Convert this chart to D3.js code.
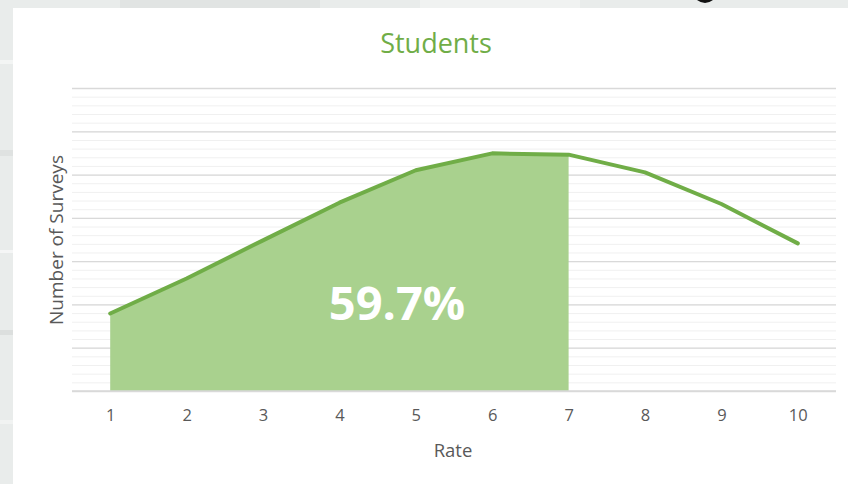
<!DOCTYPE html>
<html>
<head>
<meta charset="utf-8">
<script src="https://cdn.jsdelivr.net/npm/d3@7"></script>
<style>
  html, body { margin: 0; padding: 0; background: #e7eae9; }
  svg { display: block; }
  text { font-family: "Open Sans", "Noto Sans", sans-serif; }
</style>
</head>
<body>
<svg id="chart" width="848" height="484"></svg>
<script>
// Survey responses per rating (1–10)
const rates = [1, 2, 3, 4, 5, 6, 7, 8, 9, 10];
const surveys = [17.9, 26.0, 34.8, 43.5, 51.0, 54.9, 54.6, 50.5, 43.2, 34.1];
// Ratings covered by the shaded share
const shadedUpTo = 7;
const shareLabel = "59.7%";

const chartTitle = "Students";
const xTitle = "Rate";
const yTitle = "Number of Surveys";

const svg = d3.select("#chart");
const W = 848, H = 484;

// backdrop texture strip and white card
const bg = svg.append("g");
bg.append("rect").attr("width", W).attr("height", H).attr("fill", "#e9eceb");
const streaks = [[0, 60, 13, 4, "#f3f5f4"], [0, 150, 13, 6, "#dfe2e1"], [0, 250, 13, 3, "#f5f6f6"],
                 [0, 330, 13, 5, "#dcdfde"], [0, 420, 13, 4, "#f1f3f2"], [120, 0, 200, 8, "#e1e4e3"],
                 [420, 0, 160, 8, "#f0f2f1"]];
bg.selectAll("rect.s").data(streaks).join("rect").attr("class", "s")
  .attr("x", d => d[0]).attr("y", d => d[1]).attr("width", d => d[2]).attr("height", d => d[3])
  .attr("fill", d => d[4]);
// tail of a dark glyph peeking above the card
bg.append("path").attr("d", "M697,0 Q705,6 713,0 Z").attr("fill", "#111");
svg.append("rect").attr("x", 13).attr("y", 8).attr("width", W - 13).attr("height", H - 8).attr("fill", "#ffffff");

const m = { left: 72, right: 836, top: 88, bottom: 391 };

const x = d3.scalePoint().domain(rates).range([m.left, m.right]).padding(0.5);
const y = d3.scaleLinear().domain([0, 70]).range([m.bottom, m.top]);

// minor gridlines
svg.append("g")
  .attr("transform", `translate(${m.left},0)`)
  .call(d3.axisLeft(y).ticks(35).tickSize(-(m.right - m.left)).tickFormat(""))
  .call(g => g.select(".domain").remove())
  .call(g => g.selectAll("line").attr("stroke", "#f0f0f0").attr("stroke-width", 1));

// major gridlines
svg.append("g")
  .attr("transform", `translate(${m.left},0)`)
  .call(d3.axisLeft(y).ticks(7).tickSize(-(m.right - m.left)).tickFormat(""))
  .call(g => g.select(".domain").remove())
  .call(g => g.selectAll("line").attr("stroke", "#d9d9d9").attr("stroke-width", 1.3));

const pts = rates.map((r, i) => ({ r, v: surveys[i] }));

// shaded area up to the cut-off rating
const area = d3.area().x(d => x(d.r)).y0(y(0)).y1(d => y(d.v));
svg.append("path")
  .datum(pts.filter(d => d.r <= shadedUpTo))
  .attr("d", area)
  .attr("fill", "#a9d18e");

// x axis
const xAxis = svg.append("g")
  .attr("transform", `translate(0,${m.bottom})`)
  .call(d3.axisBottom(x).tickSize(0).tickPadding(18));
xAxis.select(".domain").attr("d", `M${m.left},0H${m.right}`).attr("stroke", "#d9d9d9").attr("stroke-width", 1.3);
xAxis.selectAll("text").attr("font-size", 16.5).attr("fill", "#595959")
  .attr("font-family", "'Open Sans', sans-serif");

// series line
const line = d3.line().x(d => x(d.r)).y(d => y(d.v));
svg.append("path")
  .datum(pts)
  .attr("d", line)
  .attr("fill", "none")
  .attr("stroke", "#70ad47")
  .attr("stroke-width", 4)
  .attr("stroke-linejoin", "round")
  .attr("stroke-linecap", "round");

// share label inside the shaded region
svg.append("text")
  .attr("x", 397).attr("y", 320)
  .attr("text-anchor", "middle")
  .attr("font-size", 47).attr("font-weight", 700)
  .attr("fill", "#ffffff")
  .text(shareLabel);

// titles
svg.append("text")
  .attr("x", 436).attr("y", 53)
  .attr("text-anchor", "middle")
  .attr("font-size", 27)
  .attr("fill", "#70ad47")
  .text(chartTitle);

svg.append("text")
  .attr("x", 453).attr("y", 457)
  .attr("text-anchor", "middle")
  .attr("font-size", 18.5)
  .attr("fill", "#595959")
  .text(xTitle);

svg.append("text")
  .attr("transform", "translate(63,240) rotate(-90)")
  .attr("text-anchor", "middle")
  .attr("font-size", 19)
  .attr("fill", "#595959")
  .text(yTitle);
</script>
</body>
</html>
